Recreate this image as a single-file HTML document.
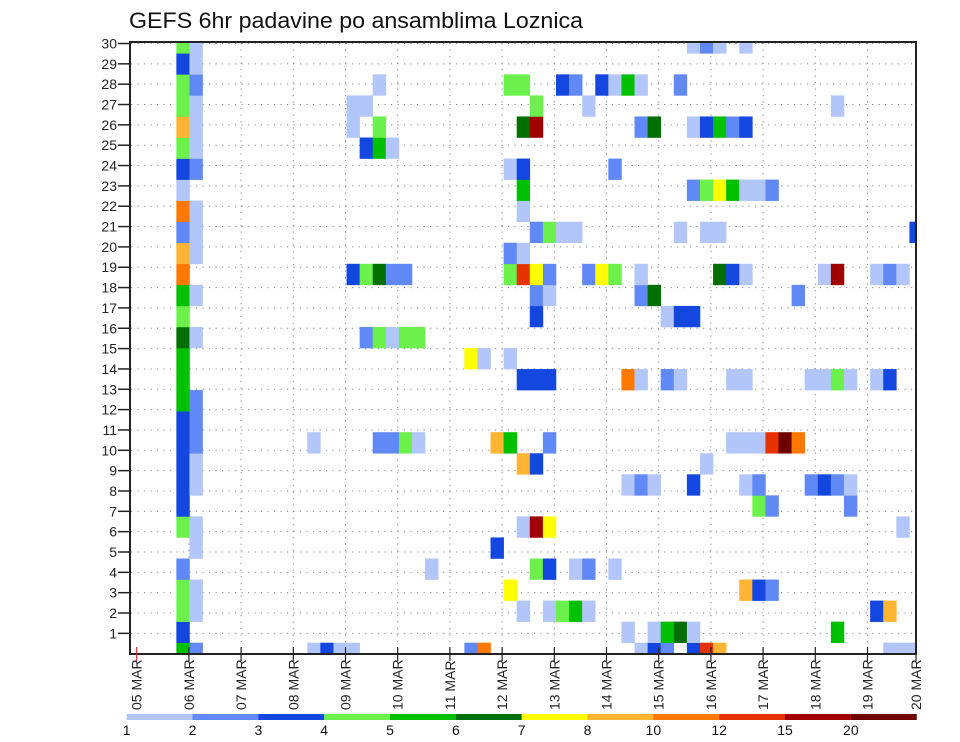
<!DOCTYPE html>
<html><head><meta charset="utf-8"><title>GEFS 6hr padavine po ansamblima Loznica</title>
<style>
html,body{margin:0;padding:0;background:#fff;}
svg{display:block;font-family:"Liberation Sans",sans-serif;}
</style></head>
<body>
<svg id="chart" width="960" height="742" viewBox="0 0 960 742" xmlns="http://www.w3.org/2000/svg">
<rect width="960" height="742" fill="#fff"/>
<text x="129" y="28" font-size="22" textLength="454" lengthAdjust="spacingAndGlyphs" fill="#111">GEFS 6hr padavine po ansamblima Loznica</text>
<defs><clipPath id="plotClip"><rect x="130" y="42" width="786" height="612"/></clipPath></defs>
<g id="grid"></g>
<g id="cells" clip-path="url(#plotClip)"></g>
<rect x="130" y="42" width="786" height="612" fill="none" stroke="#222" stroke-width="2"/>
<g id="yaxis"></g>
<g id="xaxis"></g>
<g id="legend"></g>
</svg>
<script>
// ---- data ----
const dayLabels = ["05","06","07","08","09","10","11","12","13","14","15","16","17","18","19","20"];
const memberLabels = [1,2,3,4,5,6,7,8,9,10,11,12,13,14,15,16,17,18,19,20,21,22,23,24,25,26,27,28,29,30];
const levelLabels = ["1","2","3","4","5","6","7","8","10","12","15","20"];
const levelColors = ["#b3c6fa","#6089f5","#1446e0","#6cf04c","#00c000","#006e00","#ffff00","#ffb432","#ff7800","#e63200","#a00000","#6e0000"];
// each member: list of [sixHourColumn, levelIndex(1..12)]
const member30 = [[3,4],[4,1],[42,1],[43,2],[44,1],[46,1]];
const member29 = [[3,3],[4,1]];
const member28 = [[3,4],[4,2],[18,1],[28,4],[29,4],[32,3],[33,2],[35,3],[36,1],[37,5],[38,1],[41,2]];
const member27 = [[3,4],[4,1],[16,1],[17,1],[30,4],[34,1],[53,1]];
const member26 = [[3,8],[4,1],[16,1],[18,4],[29,6],[30,11],[38,2],[39,6],[42,1],[43,3],[44,5],[45,2],[46,3]];
const member25 = [[3,4],[4,1],[17,3],[18,5],[19,1]];
const member24 = [[3,3],[4,2],[28,1],[29,3],[36,2]];
const member23 = [[3,1],[29,5],[42,2],[43,4],[44,7],[45,5],[46,1],[47,1],[48,2]];
const member22 = [[3,9],[4,1],[29,1]];
const member21 = [[3,2],[4,1],[30,2],[31,4],[32,1],[33,1],[41,1],[43,1],[44,1],[59,3]];
const member20 = [[3,8],[4,1],[28,2],[29,1]];
const member19 = [[3,9],[16,3],[17,4],[18,6],[19,2],[20,2],[28,4],[29,10],[30,7],[31,2],[34,2],[35,7],[36,4],[38,1],[44,6],[45,3],[46,1],[52,1],[53,11],[56,1],[57,2],[58,1]];
const member18 = [[3,5],[4,1],[30,2],[31,1],[38,2],[39,6],[50,2]];
const member17 = [[3,4],[30,3],[40,1],[41,3],[42,3]];
const member16 = [[3,6],[4,1],[17,2],[18,4],[19,1],[20,4],[21,4]];
const member15 = [[3,5],[25,7],[26,1],[28,1]];
const member14 = [[3,5],[29,3],[30,3],[31,3],[37,9],[38,1],[40,2],[41,1],[45,1],[46,1],[51,1],[52,1],[53,4],[54,1],[56,1],[57,3]];
const member13 = [[3,5],[4,2]];
const member12 = [[3,3],[4,2]];
const member11 = [[3,3],[4,2],[13,1],[18,2],[19,2],[20,4],[21,1],[27,8],[28,5],[31,2],[45,1],[46,1],[47,1],[48,10],[49,12],[50,9]];
const member10 = [[3,3],[4,1],[29,8],[30,3],[43,1]];
const member9 = [[3,3],[4,1],[37,1],[38,2],[39,1],[42,3],[46,1],[47,2],[51,2],[52,3],[53,2],[54,1]];
const member8 = [[3,3],[47,4],[48,2],[54,2]];
const member7 = [[3,4],[4,1],[29,1],[30,11],[31,7],[58,1]];
const member6 = [[4,1],[27,3]];
const member5 = [[3,2],[22,1],[30,4],[31,3],[33,1],[34,2],[36,1]];
const member4 = [[3,4],[4,1],[28,7],[46,8],[47,3],[48,2]];
const member3 = [[3,4],[4,1],[29,1],[31,1],[32,4],[33,5],[34,1],[56,3],[57,8]];
const member2 = [[3,3],[37,1],[39,1],[40,5],[41,6],[42,1],[53,5]];
const member1 = [[3,5],[4,2],[13,1],[14,3],[15,1],[16,1],[25,2],[26,9],[38,1],[39,3],[40,2],[42,3],[43,10],[44,8],[57,1],[58,1],[59,1]];
const members = [member1,member2,member3,member4,member5,member6,member7,member8,member9,member10,member11,member12,member13,member14,member15,member16,member17,member18,member19,member20,member21,member22,member23,member24,member25,member26,member27,member28,member29,member30];

// ---- axis functions ----
const NS = "http://www.w3.org/2000/svg";
function colX(c){ return 137.1 + 13.09*c; }
const colW = 13.09;
function memberTop(m){ return 53.3 + 21.05*(29 - m); }
const rowH = 21.05;
function tickY(m){ return 43.5 + (30 - m)*20.34; }
function dayX(d){ return d === 15 ? 916 : 136.7 + 52.2*d; }
function levelX(i){ return 126.7 + 65.83*i; }
function mk(tag, attrs, parent){ const e=document.createElementNS(NS,tag); for(const k in attrs) e.setAttribute(k,attrs[k]); parent.appendChild(e); return e; }

const grid = document.getElementById("grid");
memberLabels.forEach(m=>{
  const l = mk("line",{x1:131,x2:915,y1:tickY(m),y2:tickY(m),stroke:"#888","stroke-width":1,"stroke-dasharray":"1.2,5.3"},grid);
  
  
});
dayLabels.forEach((d,i)=>{
  if(i===0||i===15) return;
  const l = mk("line",{x1:dayX(i),x2:dayX(i),y1:43,y2:653,stroke:"#888","stroke-width":1,"stroke-dasharray":"1.2,5.3"},grid);
  
  
});

const cellsG = document.getElementById("cells");
members.forEach((list,mi)=>{
  const m = memberLabels[mi];
  list.forEach(([c,k])=>{
    const r = mk("rect",{x:colX(c),y:memberTop(m),width:colW+0.3,height:rowH+0.3,fill:levelColors[k-1]},cellsG);
    
    
  });
});

const yax = document.getElementById("yaxis");
memberLabels.forEach(m=>{
  const t = mk("line",{x1:118,x2:131,y1:tickY(m),y2:tickY(m),stroke:"#222","stroke-width":1.5},yax);
  
  
  const tx = mk("text",{x:117,y:tickY(m)+5,"font-size":14,"text-anchor":"end",fill:"#222"},yax);
  tx.textContent = m;
  
  
});

const xax = document.getElementById("xaxis");
dayLabels.forEach((d,i)=>{
  const x = dayX(i);
  const t = mk("line",{x1:x,x2:x,y1:647,y2:661,stroke:i===0?"#c33":"#222","stroke-width":1.2},xax);
  
  
  const g = mk("text",{transform:"translate("+(x+5)+",710) rotate(-90)","font-size":14,fill:"#222"},xax);
  
  
  g.setAttribute("xml:space","preserve");
  g.textContent = d + "   MAR";
});

const leg = document.getElementById("legend");
levelColors.forEach((col,i)=>{
  const r = mk("rect",{x:levelX(i),y:714,width:65.9,height:6,fill:col},leg);
  
  
});
levelLabels.forEach((lab,i)=>{
  const t = mk("text",{x:levelX(i),y:735,"font-size":14,"text-anchor":"middle",fill:"#111"},leg);
  t.textContent = lab;
  
  
});
</script>
</body></html>
